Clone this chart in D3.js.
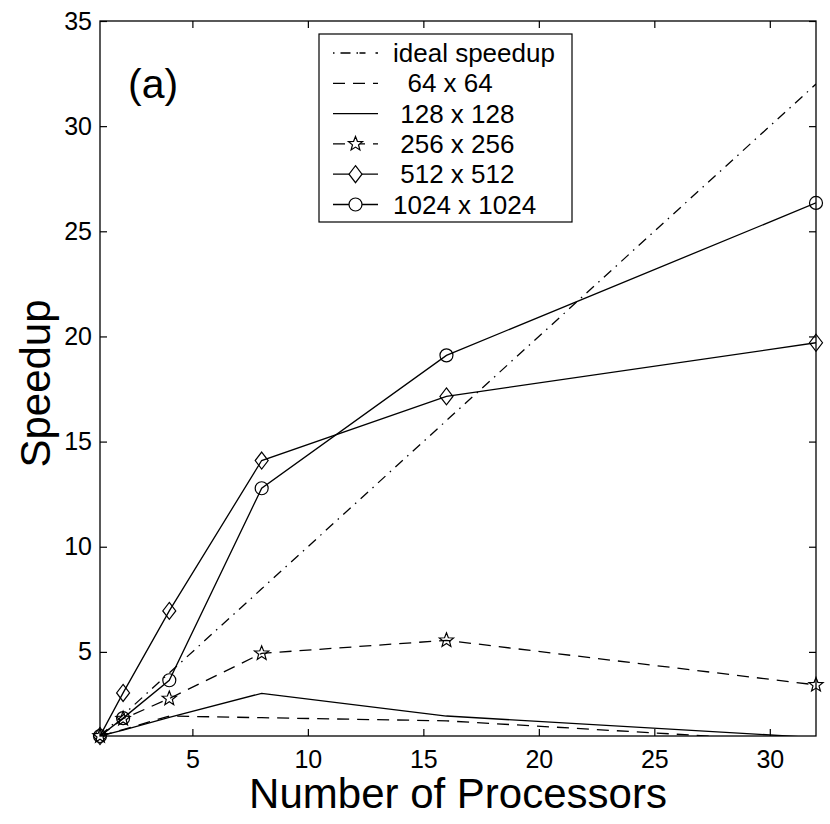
<!DOCTYPE html>
<html>
<head>
<meta charset="utf-8">
<script src="https://cdn.jsdelivr.net/npm/d3@7"></script>
<style>
  html, body { margin: 0; padding: 0; background: #fff; }
  svg { display: block; }
  text { font-family: "Liberation Sans", Arial, Helvetica, sans-serif; fill: #000; }
</style>
</head>
<body>
<svg id="chart" width="830" height="824"></svg>
<script>
// ---- data ----
const processors = [1, 2, 4, 8, 16, 32];
const ideal      = [1, 2, 4, 8, 16, 32];
const s64        = [1, 1.3, 1.95, 1.87, 1.72, 0.7];
const s128       = [1, 1.28, 1.88, 3.03, 1.95, 0.92];
const s256       = [1, 1.82, 2.78, 4.93, 5.55, 3.43];
const s512       = [1, 3.05, 6.95, 14.1, 17.15, 19.7];
const s1024      = [1, 1.85, 3.65, 12.78, 19.1, 26.35];
const seriesNames = ["ideal speedup", "  64 x 64", " 128 x 128", " 256 x 256", " 512 x 512", "1024 x 1024"];
const xTicks = [5, 10, 15, 20, 25, 30];
const yTicks = [5, 10, 15, 20, 25, 30, 35];

// ---- layout ----
const svg = d3.select("#chart");
const L = 100, R = 816, T = 21, B = 736;
const x = d3.scaleLinear().domain([1, 32]).range([L, R]);
const y = d3.scaleLinear().domain([1, 35]).range([B, T]);

const series = [
  { name: seriesNames[0], values: ideal, dash: "10,6,1.5,6", marker: null },
  { name: seriesNames[1], values: s64,   dash: "12,8",  marker: null },
  { name: seriesNames[2], values: s128,  dash: null,    marker: null },
  { name: seriesNames[3], values: s256,  dash: "12,8",  marker: "star" },
  { name: seriesNames[4], values: s512,  dash: null,    marker: "diamond" },
  { name: seriesNames[5], values: s1024, dash: null,    marker: "circle" }
];

function starPath(ro, ri) {
  const pts = [];
  for (let i = 0; i < 10; i++) {
    const r = i % 2 === 0 ? ro : ri;
    const a = -Math.PI / 2 + i * Math.PI / 5;
    pts.push([r * Math.cos(a), r * Math.sin(a)]);
  }
  return "M" + pts.map(p => p[0].toFixed(2) + "," + p[1].toFixed(2)).join("L") + "Z";
}
const markerPaths = {
  star: starPath(7.5, 3.2),
  diamond: "M0,-8.5L6.5,0L0,8.5L-6.5,0Z",
  circle: d3.symbol().type(d3.symbolCircle).size(Math.PI * 6.5 * 6.5)()
};

svg.append("defs").append("clipPath").attr("id", "plotclip")
  .append("rect").attr("x", L).attr("y", T).attr("width", R - L).attr("height", B - T);

// ---- axes ----
const xAxisB = d3.axisBottom(x).tickValues(xTicks).tickSizeInner(-7).tickSizeOuter(0).tickPadding(14);
const xAxisT = d3.axisTop(x).tickValues(xTicks).tickSizeInner(-7).tickSizeOuter(0).tickFormat("");
const yAxisL = d3.axisLeft(y).tickValues(yTicks).tickSizeInner(-7).tickSizeOuter(0).tickPadding(8);
const yAxisR = d3.axisRight(y).tickValues(yTicks).tickSizeInner(-7).tickSizeOuter(0).tickFormat("");

function styleAxis(g) {
  g.select(".domain").remove();
  g.selectAll("line").attr("stroke", "#000").attr("stroke-width", 1.2);
  g.selectAll("text").attr("font-size", 25).attr("font-family", "Liberation Sans, Arial, sans-serif");
}
svg.append("g").attr("transform", `translate(0,${B})`).call(xAxisB).call(styleAxis);
svg.append("g").attr("transform", `translate(0,${T})`).call(xAxisT).call(styleAxis);
svg.append("g").attr("transform", `translate(${L},0)`).call(yAxisL).call(styleAxis);
svg.append("g").attr("transform", `translate(${R},0)`).call(yAxisR).call(styleAxis);

// ---- lines ----
const plot = svg.append("g").attr("clip-path", "url(#plotclip)");
const line = d3.line().x((d, i) => x(processors[i])).y(d => y(d));
series.forEach(s => {
  plot.append("path")
    .attr("d", line(s.values))
    .attr("fill", "none")
    .attr("stroke", "#000")
    .attr("stroke-width", 1.3)
    .attr("stroke-dasharray", s.dash);
});
series.forEach(s => {
  if (!s.marker) return;
  svg.append("g").selectAll("path").data(s.values).join("path")
    .attr("transform", (d, i) => `translate(${x(processors[i])},${y(d)})`)
    .attr("d", markerPaths[s.marker])
    .attr("fill", "none")
    .attr("stroke", "#000")
    .attr("stroke-width", 1.2);
});

// box
svg.append("rect").attr("x", L).attr("y", T).attr("width", R - L).attr("height", B - T)
  .attr("fill", "none").attr("stroke", "#000").attr("stroke-width", 1.3);

// ---- legend ----
const lg = svg.append("g");
lg.append("rect").attr("x", 319).attr("y", 34).attr("width", 253).attr("height", 188)
  .attr("fill", "#fff").attr("stroke", "#000").attr("stroke-width", 1.2);
series.forEach((s, i) => {
  const cy = 53 + i * 30.3;
  lg.append("line").attr("x1", 333).attr("x2", 378).attr("y1", cy).attr("y2", cy)
    .attr("stroke", "#000").attr("stroke-width", 1.3)
    .attr("stroke-dasharray", s.dash ? (i === 0 ? "1.5,6,10,6,1.5" : "12,8") : null);
  if (s.marker) {
    lg.append("path").attr("transform", `translate(355.5,${cy})`).attr("d", markerPaths[s.marker])
      .attr("fill", "#fff").attr("stroke", "#000").attr("stroke-width", 1.2);
  }
  lg.append("text").attr("x", 393).attr("y", cy + 9)
    .attr("font-size", 26).style("white-space", "pre").attr("xml:space", "preserve")
    .text(s.name);
});

// ---- labels ----
svg.append("text").attr("x", 128).attr("y", 98).attr("font-size", 41).text("(a)");
svg.append("text").attr("x", (L + R) / 2).attr("y", 808).attr("text-anchor", "middle")
  .attr("font-size", 42).text("Number of Processors");
svg.append("text").attr("transform", `translate(50,${(T + B) / 2 + 5}) rotate(-90)`)
  .attr("text-anchor", "middle").attr("font-size", 42).text("Speedup");
</script>
</body>
</html>
